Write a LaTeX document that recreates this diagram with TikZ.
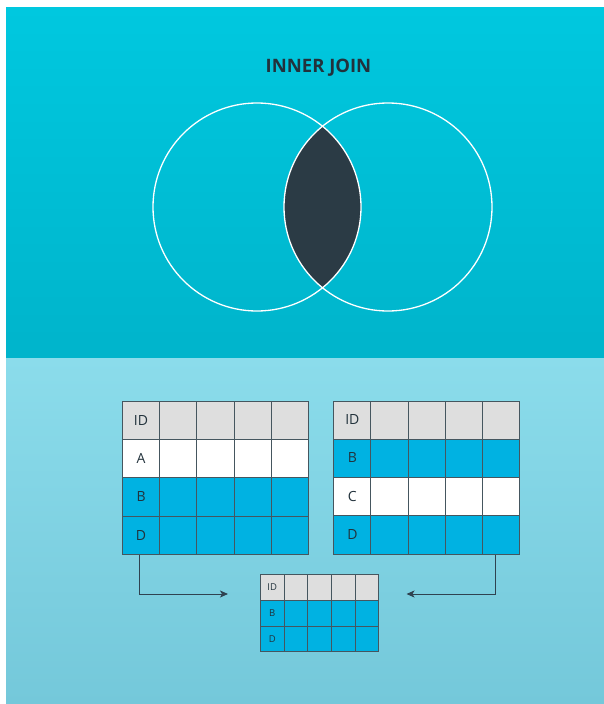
\documentclass[tikz,border=0pt]{standalone}
\usepackage{fontspec}
\setmainfont{Open Sans}
\usetikzlibrary{arrows.meta,calc}
\definecolor{topA}{HTML}{00C8DF}
\definecolor{topB}{HTML}{00B4CB}
\definecolor{botA}{HTML}{8BDCEB}
\definecolor{botB}{HTML}{74C8DA}
\definecolor{lens}{HTML}{2B3B45}
\definecolor{ink}{HTML}{22323C}
\definecolor{gridc}{HTML}{45565F}
\definecolor{hdr}{HTML}{DEDEDE}
\definecolor{cellblue}{HTML}{00B2E2}
\definecolor{conn}{HTML}{2F4250}
\tikzset{
  bigcell/.style={rectangle, draw=gridc, line width=0.9pt, minimum width=37.2pt, minimum height=38.3pt, inner sep=0pt, anchor=north west, text=ink, font=\fontsize{14}{16}\selectfont},
  smallcell/.style={rectangle, draw=gridc, line width=0.8pt, minimum width=23.66pt, minimum height=25.7pt, inner sep=0pt, anchor=north west, text=ink, font=\fontsize{9.5}{11}\selectfont},
  setcircle/.style={circle, draw=white, line width=1.3pt, minimum size=208pt, inner sep=0pt},
  connector/.style={draw=conn, line width=1pt, -{Stealth[length=8pt,width=7pt,inset=2pt]}},
}
\begin{document}
\begin{tikzpicture}[x=1pt,y=-1pt]
\useasboundingbox (0,0) rectangle (604,704);
\fill[white] (0,0) rectangle (604,704);
\shade[top color=topA,bottom color=topB] (6,7) rectangle (604,358);
\shade[top color=botA,bottom color=botB] (6,358) rectangle (604,704);

% title
\node[font=\bfseries\fontsize{18.5}{20}\selectfont, text=ink] (title) at (318.5,68) {INNER JOIN};

% Venn
\begin{scope}
  \clip (257,207) circle[radius=104pt];
  \fill[lens] (388,207) circle[radius=104pt];
\end{scope}
\node[setcircle] (setA) at (257,207) {};
\node[setcircle] (setB) at (388,207) {};

% left table
\foreach \r/\lab/\col in {0/ID/hdr,1/A/white,2/B/cellblue,3/D/cellblue} {
  \node[bigcell,fill=\col] (L\r0) at (122,{400.7+\r*38.3}) {\lab};
  \foreach \c in {1,...,4}
    \node[bigcell,fill=\col] (L\r\c) at ({122+\c*37.2},{400.7+\r*38.3}) {};
}
% right table
\foreach \r/\lab/\col in {0/ID/hdr,1/B/cellblue,2/C/white,3/D/cellblue} {
  \node[bigcell,fill=\col] (R\r0) at (333.3,{400.5+\r*38.3}) {\raisebox{1.5pt}{\lab}};
  \foreach \c in {1,...,4}
    \node[bigcell,fill=\col] (R\r\c) at ({333.3+\c*37.1},{400.5+\r*38.3}) {};
}
% result table
\foreach \r/\lab/\col in {0/ID/hdr,1/B/cellblue,2/D/cellblue} {
  \node[smallcell,fill=\col] (J\r0) at (260,{574.2+\r*25.7}) {\lab};
  \foreach \c in {1,...,4}
    \node[smallcell,fill=\col] (J\r\c) at ({260+\c*23.66},{574.2+\r*25.7}) {};
}

% connectors
\coordinate (endL) at (228,594);
\coordinate (endR) at (406.5,594);
\draw[connector] ([xshift=-1.3pt]L30.south) |- (endL);
\draw[connector] ([xshift=-5pt]R34.south) |- (endR);
\end{tikzpicture}
\end{document}
